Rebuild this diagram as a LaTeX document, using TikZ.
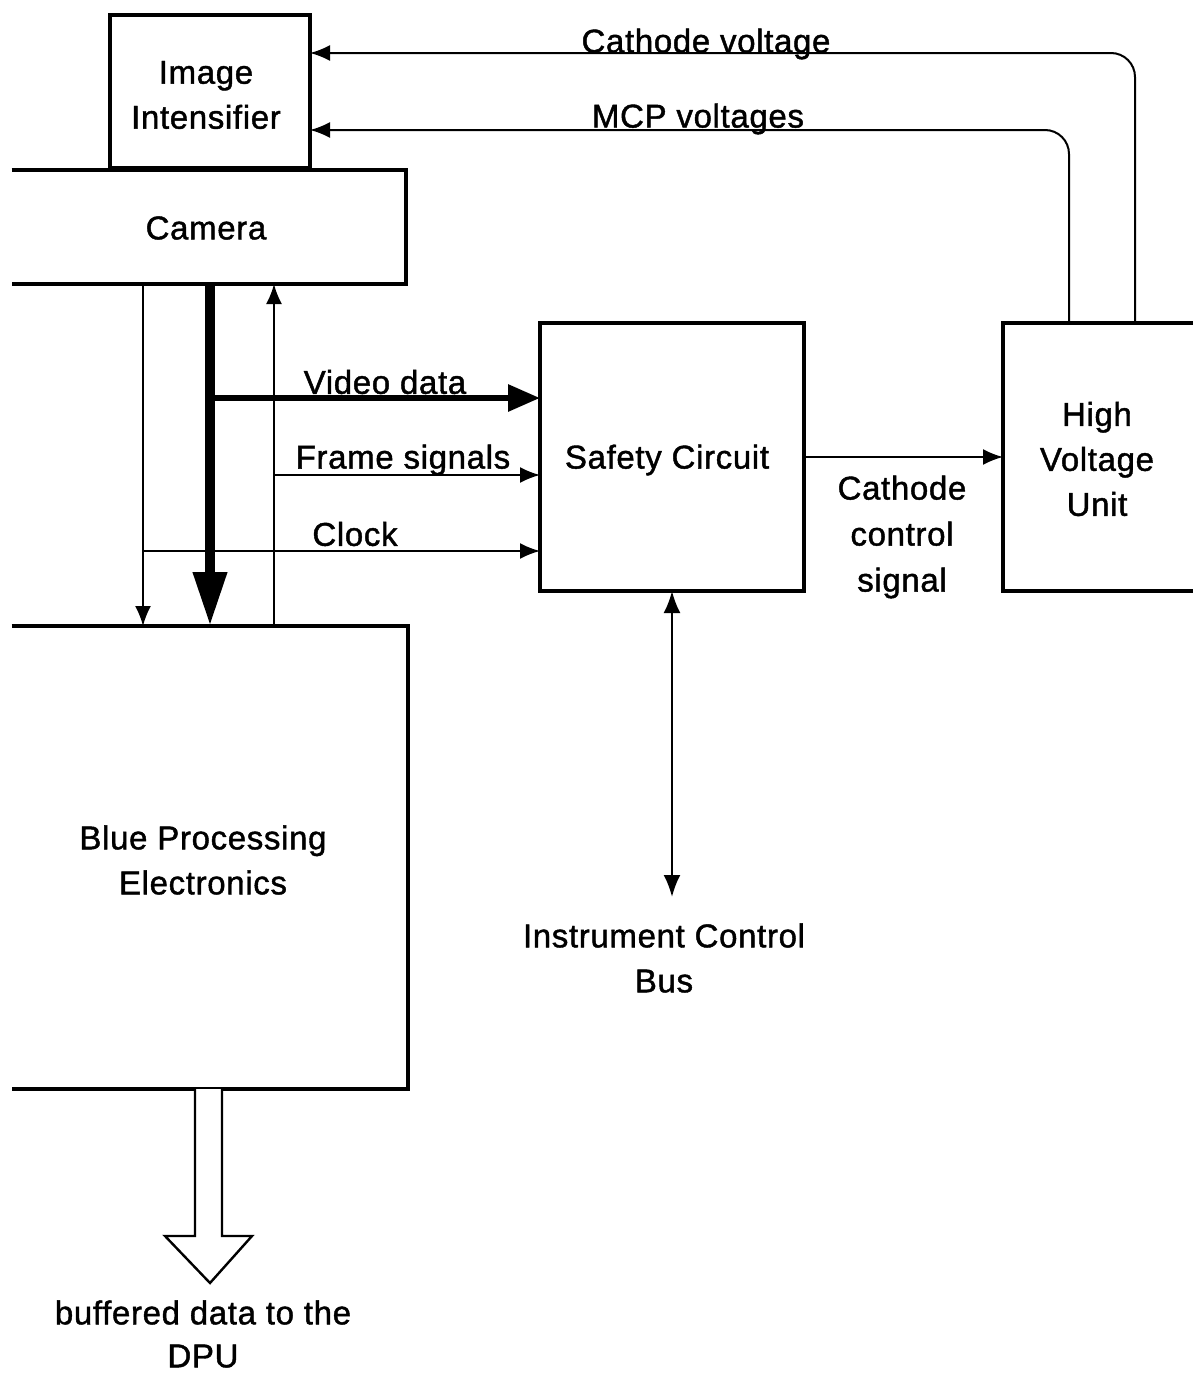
\documentclass[tikz,border=0pt]{standalone}
\usepackage{fontspec}
\setmainfont{Liberation Sans}[LetterSpace=2,FakeBold=1.3]
\usetikzlibrary{arrows.meta,fit}
\begin{document}
\begin{tikzpicture}[x=0.5pt,y=-0.5pt,
  boxline/.style={line width=2pt},
  thin/.style={line width=1pt},
  thinarrow/.style={line width=1pt,-{Latex[length=10pt,width=8pt]}},
  lbl/.style={font=\fontsize{16.5}{22.5}\selectfont,align=center,inner sep=0pt},
  region/.style={inner sep=0pt,draw=none}]
\useasboundingbox (0,0) rectangle (1193,1376);
% boxes
\node[region,fit={(110,15) (310,168)},draw,boxline] (ii) {};
\node[region,fit={(12,170) (406,284)}] (cam) {};
\node[region,fit={(12,626) (408,1089)}] (bpe) {};
\node[region,fit={(540,323) (804,591)},draw,boxline] (sc) {};
\node[region,fit={(1003,323) (1193,591)}] (hv) {};
\draw[boxline] (cam.north west) -- (cam.north east) -- (cam.south east) -- (cam.south west);
\draw[boxline] (bpe.north west) -- (bpe.north east) -- (bpe.south east) -- (bpe.south west);
\draw[boxline] (hv.north east) -- (hv.north west) -- (hv.south west) -- (hv.south east);
% labels
\node[lbl] (tii) at (206,95) {Image\\Intensifier};
\node[lbl] (tcam) at (206,228) {Camera};
\node[lbl] (tsc) at (667,460) {Safety Circuit};
\node[lbl] (thv) at (1097,459) {High\\Voltage\\Unit};
\node[lbl] (tbpe) at (203,860) {Blue Processing\\Electronics};
\node[lbl,font=\fontsize{16.5}{23}\selectfont] (tccs) at (902,537) {Cathode\\control\\signal};
\node[lbl] (tvid) at (385,382) {Video data};
\node[lbl] (tfr) at (403,460) {Frame signals};
\node[lbl] (tclk) at (355,534) {Clock};
\node[lbl] (tcv) at (706,44) {Cathode voltage};
\node[lbl] (tmcp) at (698,119) {MCP voltages};
\node[lbl] (ticb) at (664,958) {Instrument Control\\Bus};
\node[lbl,font=\fontsize{16.5}{21.5}\selectfont] (tdpu) at (203,1334) {buffered data to the\\DPU};
% coordinates
\coordinate (d1a) at (143,284); \coordinate (d1b) at (143,626);
\coordinate (d2a) at (210,284); \coordinate (d2b) at (210,626);
\coordinate (u1a) at (274,626); \coordinate (u1b) at (274,284);
\coordinate (vid0) at (210,398); \coordinate (vid1) at (540,398);
\coordinate (fr0) at (274,475); \coordinate (fr1) at (540,475);
\coordinate (clk0) at (143,551); \coordinate (clk1) at (540,551);
\coordinate (cc0) at (804,457); \coordinate (cc1) at (1003,457);
\coordinate (bus0) at (672,591); \coordinate (bus1) at (672,897);
\coordinate (cv0) at (1135,323); \coordinate (cv1) at (310,53);
\coordinate (mc0) at (1069,323); \coordinate (mc1) at (310,130);
% camera <-> electronics
\draw[thinarrow] (d1a) -- (d1b);
\draw[line width=5pt,-{Triangle[length=27pt,width=16pt]}] (d2a) -- (d2b);
\draw[thinarrow] (u1a) -- (u1b);
\draw[line width=3pt,-{Triangle[length=16pt,width=13pt]}] (vid0) -- (vid1);
\draw[thinarrow] (fr0) -- (fr1);
\draw[thinarrow] (clk0) -- (clk1);
\draw[thinarrow] (cc0) -- (cc1);
\draw[line width=1.2pt,{Latex[length=11pt,width=8.5pt]}-{Latex[length=11pt,width=8.5pt]}] (bus0) -- (bus1);
% HV feeds
\draw[thinarrow,rounded corners=12pt] (cv0) -- (cv0 |- cv1) -- (cv1);
\draw[thinarrow,rounded corners=12pt] (mc0) -- (mc0 |- mc1) -- (mc1);
% hollow output arrow
\coordinate (hs) at (210,1089);
\draw[line width=1.2pt,fill=white] (195,1089) -- (195,1236) -- (165,1236) -- (210,1283) -- (252,1236) -- (222,1236) -- (222,1089);
\end{tikzpicture}
\end{document}
